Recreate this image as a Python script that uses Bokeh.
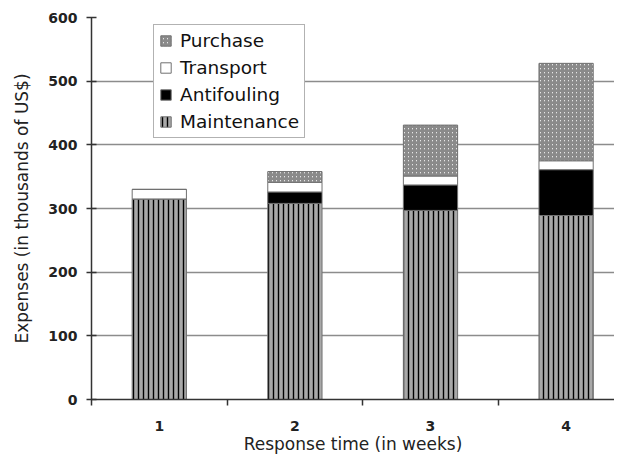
from bokeh.plotting import figure
from bokeh.models import ColumnDataSource, FixedTicker, Legend, LegendItem
from bokeh.transform import stack
from bokeh.embed import file_html
from bokeh.resources import INLINE

weeks = [1, 2, 3, 4]
week_labels = ["1", "2", "3", "4"]
maintenance = [315, 308, 297, 289]
antifouling = [0, 18, 40, 72]
transport = [15, 15, 14, 14]
purchase = [0, 17, 80, 153]
y_ticks = [0, 100, 200, 300, 400, 500, 600]

series = ["maintenance", "antifouling", "transport", "purchase"]
names = ["Maintenance", "Antifouling", "Transport", "Purchase"]

source = ColumnDataSource(dict(x=weeks, maintenance=maintenance, antifouling=antifouling,
                               transport=transport, purchase=purchase))

FONT = "DejaVu Sans"

p = figure(width=614, height=456, output_backend="svg", toolbar_location=None,
           x_range=(0.5, 4.357), y_range=(0, 600),
           min_border_left=91, min_border_right=0, min_border_top=17, min_border_bottom=52)
p.outline_line_color = None
p.background_fill_color = "white"

styles = [
    dict(fill_color="#a8a8a8", hatch_pattern="|", hatch_color="black", hatch_scale=5, hatch_weight=1.4),
    dict(fill_color="black"),
    dict(fill_color="white"),
    dict(fill_color="white", hatch_pattern="/", hatch_color="#8a8a8a", hatch_scale=4, hatch_weight=2.2),
]

renderers = []
bottom_expr = []
for s, st in zip(series, styles):
    r = p.vbar(x="x", width=0.4, bottom=stack(*bottom_expr), top=stack(*bottom_expr, s),
               source=source, line_color="#707070", line_width=1, **st)
    renderers.append(r)
    bottom_expr.append(s)

# axes
p.yaxis.ticker = FixedTicker(ticks=y_ticks)
p.yaxis.major_tick_in = 5
p.yaxis.major_tick_out = 5
p.yaxis.minor_tick_line_color = None
p.yaxis.axis_line_color = "#333333"
p.yaxis.major_tick_line_color = "#333333"
p.yaxis.axis_line_width = 1.5
p.yaxis.major_tick_line_width = 1.5
p.yaxis.major_label_text_font = FONT
p.yaxis.major_label_text_font_style = "bold"
p.yaxis.major_label_text_font_size = "14px"
p.yaxis.major_label_text_color = "#222222"
p.yaxis.major_label_standoff = 9
p.yaxis.axis_label = "Expenses (in thousands of US$)"
p.yaxis.axis_label_text_font = FONT
p.yaxis.axis_label_text_font_style = "normal"
p.yaxis.axis_label_text_font_size = "17px"
p.yaxis.axis_label_text_color = "#222222"
p.yaxis.axis_label_standoff = 13

p.xaxis.ticker = FixedTicker(ticks=weeks, minor_ticks=[0.5, 1.5, 2.5, 3.5, 4.5])
p.xaxis.major_label_overrides = {w: l for w, l in zip(weeks, week_labels)}
p.xaxis.major_tick_in = 0
p.xaxis.major_tick_out = 0
p.xaxis.minor_tick_in = 0
p.xaxis.minor_tick_out = 6
p.xaxis.minor_tick_line_color = "#333333"
p.xaxis.minor_tick_line_width = 1.5
p.xaxis.axis_line_color = "#333333"
p.xaxis.axis_line_width = 1.5
p.xaxis.major_label_text_font = FONT
p.xaxis.major_label_text_font_style = "bold"
p.xaxis.major_label_text_font_size = "14px"
p.xaxis.major_label_text_color = "#222222"
p.xaxis.major_label_standoff = 15
p.xaxis.axis_label = "Response time (in weeks)"
p.xaxis.axis_label_text_font = FONT
p.xaxis.axis_label_text_font_style = "normal"
p.xaxis.axis_label_text_font_size = "17px"
p.xaxis.axis_label_text_color = "#222222"
p.xaxis.axis_label_standoff = 0

p.xgrid.grid_line_color = None
p.ygrid.ticker = FixedTicker(ticks=y_ticks[1:])
p.ygrid.grid_line_color = "#8c8c8c"
p.ygrid.grid_line_width = 1.5

items = [LegendItem(label=n, renderers=[r]) for n, r in zip(names, renderers)][::-1]
legend = Legend(items=items, location=(62, 261), orientation="vertical")
legend.label_text_font = FONT
legend.label_text_font_size = "18.5px"
legend.label_text_color = "#111111"
legend.glyph_width = 13
legend.glyph_height = 13
legend.label_standoff = 8
legend.label_height = 21
legend.spacing = 6
legend.padding = 5
legend.margin = 0
legend.border_line_color = "#666666"
legend.border_line_width = 1.5
legend.background_fill_alpha = 1
p.add_layout(legend, "center")

open("out.html", "w").write(file_html(p, INLINE))
